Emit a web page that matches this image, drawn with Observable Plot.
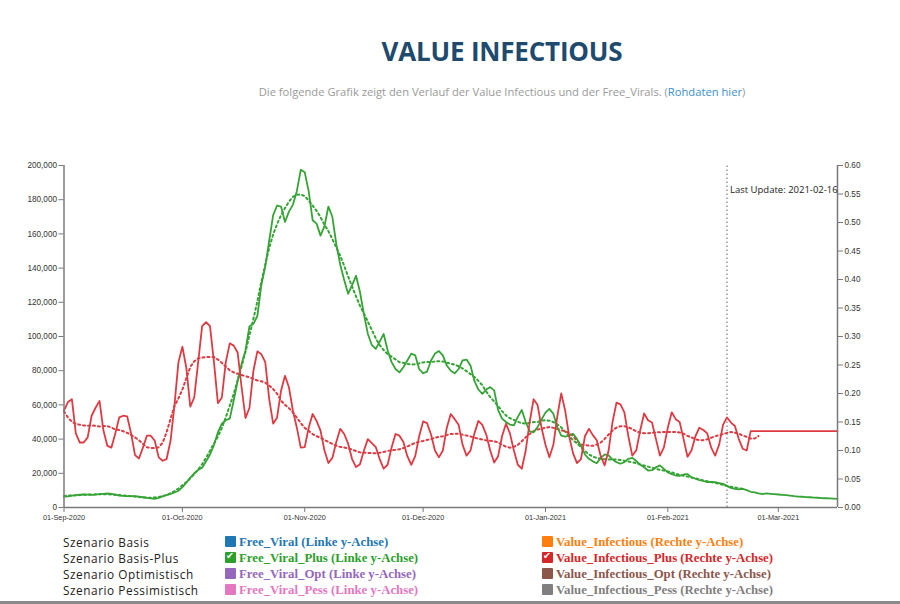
<!DOCTYPE html>
<html>
<head>
<meta charset="utf-8">
<script src="https://cdn.jsdelivr.net/npm/d3@7"></script>
<script src="https://cdn.jsdelivr.net/npm/@observablehq/plot@0.6"></script>
<style>
  html, body { margin: 0; padding: 0; background: #fff; }
  body { width: 900px; height: 604px; position: relative; overflow: hidden; font-family: "Open Sans", sans-serif; }
  #title { position: absolute; left: 104px; width: 796px; top: 34px; text-align: center; font-weight: 700; font-size: 26px; color: #1e4a6d; line-height: 34px; letter-spacing: -0.2px; }
  #subtitle { position: absolute; left: 104px; width: 796px; top: 84px; text-align: center; font-size: 11.2px; color: #9a9a9a; line-height: 16px; }
  #subtitle a { color: #3b8fd1; text-decoration: none; }
  #chart { position: absolute; left: 0; top: 145px; }
  .leg { position: absolute; line-height: 16px; white-space: nowrap; }
  .scen { left: 63px; color: #222; font-family: "Open Sans", sans-serif; font-size: 11.8px; letter-spacing: 0.55px; }
  .ser { font-family: "Liberation Serif", "Times New Roman", serif; font-weight: 700; font-size: 12.8px; }
  .sw { display: inline-block; width: 11px; height: 11px; margin-right: 3px; vertical-align: -1px; position: relative; border-radius: 1px; }
  .sw.on::after { content: "✔"; position: absolute; left: 1px; top: -4px; font-size: 9.5px; color: #fff; font-family: "DejaVu Sans"; }
  #bottomline { position: absolute; left: 0; top: 601px; width: 900px; height: 3px; background: #8a8a8a; }
</style>
</head>
<body>
<div id="title">VALUE INFECTIOUS</div>
<div id="subtitle">Die folgende Grafik zeigt den Verlauf der Value Infectious und der Free_Virals. (<a>Rohdaten hier</a>)</div>
<div id="chart"></div>
<div id="legend"></div>
<div id="bottomline"></div>
<script>
// ---- data ----
const startDate = "2020-09-01";
const endDate = "2021-03-16";
const lastUpdate = "2021-02-16";

// Free_Viral_Plus (left axis), daily, in thousands, from 01-Sep-2020
const freeViralPlusK = [
  6.4, 6.5, 7.0, 7.2, 7.5, 7.6, 7.5, 7.4, 7.5, 7.8,
  8.0, 8.2, 8.0, 7.5, 7.0, 6.8, 6.7, 6.6, 6.6, 6.3,
  6.0, 5.6, 5.3, 5.0, 5.6, 6.5, 7.3, 8.0, 8.8, 9.8,
  11.9, 14.5, 17.5, 20.0, 22.0, 23.3, 27.0, 31.0, 36.5, 44.0,
  49.0, 51.0, 52.0, 62.6, 74.0, 84.0, 92.0, 106.0, 107.4, 112.0,
  130.0, 141.0, 156.0, 171.0, 176.6, 176.0, 167.0, 173.0, 177.0, 185.0,
  197.5, 196.0, 185.0, 168.0, 166.0, 159.0, 164.5, 176.0, 170.0, 154.0,
  142.0, 133.0, 125.0, 130.0, 135.5, 126.0, 113.0, 101.5, 95.0, 92.8,
  97.0, 101.5, 92.0, 85.0, 81.0, 79.0, 82.0, 86.0, 90.0, 89.0,
  81.0, 78.5, 79.5, 86.0, 90.0, 91.5, 89.0, 83.0, 80.0, 78.5,
  81.0, 86.0, 86.5, 83.0, 74.0, 69.0, 66.5, 69.0, 70.4, 68.5,
  57.0, 52.0, 50.0, 48.5, 48.0, 53.0, 57.0, 50.0, 44.5, 44.0,
  47.0, 51.5, 55.5, 57.7, 54.8, 47.0, 42.0, 41.5, 42.0, 43.1,
  40.0, 36.0, 31.0, 28.5, 27.0, 25.9, 29.0, 31.0, 30.5, 28.0,
  26.5, 25.6, 26.5, 28.5, 29.0, 27.2, 25.0, 23.5, 21.6, 21.8,
  23.5, 24.6, 22.6, 20.5, 19.5, 18.7, 18.5, 19.3, 19.5, 17.6,
  16.8, 16.0, 15.5, 14.8, 14.9, 14.8, 14.3, 13.8, 12.5, 11.5,
  10.9, 10.6, 10.9, 10.2, 9.2, 8.8, 8.2, 7.8, 8.2, 8.0,
  7.8, 7.6, 7.4, 7.2, 6.9, 6.6, 6.4, 6.3, 6.1, 6.0,
  5.8, 5.7, 5.5, 5.4, 5.3, 5.2, 5.1
];

// Value_Infectious_Plus (right axis), daily, from 01-Sep-2020
const valueInfectiousPlus = [
  0.170, 0.185, 0.190, 0.130, 0.114, 0.114, 0.123, 0.161, 0.175, 0.187,
  0.135, 0.108, 0.105, 0.130, 0.158, 0.161, 0.160, 0.130, 0.092, 0.086,
  0.105, 0.126, 0.126, 0.117, 0.088, 0.082, 0.085, 0.117, 0.180, 0.255,
  0.282, 0.245, 0.177, 0.193, 0.255, 0.318, 0.325, 0.318, 0.255, 0.183,
  0.193, 0.255, 0.288, 0.284, 0.272, 0.211, 0.157, 0.175, 0.240, 0.274,
  0.269, 0.255, 0.190, 0.147, 0.158, 0.205, 0.231, 0.211, 0.170, 0.140,
  0.105, 0.106, 0.140, 0.164, 0.152, 0.135, 0.100, 0.078, 0.087, 0.115,
  0.138, 0.129, 0.112, 0.085, 0.071, 0.076, 0.100, 0.120, 0.113, 0.106,
  0.085, 0.068, 0.075, 0.105, 0.129, 0.126, 0.115, 0.090, 0.075, 0.090,
  0.125, 0.151, 0.148, 0.128, 0.100, 0.088, 0.100, 0.140, 0.164, 0.155,
  0.145, 0.110, 0.091, 0.100, 0.130, 0.152, 0.145, 0.128, 0.100, 0.079,
  0.090, 0.125, 0.147, 0.130, 0.100, 0.075, 0.068, 0.100, 0.150, 0.190,
  0.180, 0.140, 0.110, 0.088, 0.110, 0.160, 0.200, 0.170, 0.125, 0.095,
  0.078, 0.085, 0.125, 0.138, 0.127, 0.118, 0.090, 0.074, 0.100, 0.150,
  0.184, 0.181, 0.167, 0.125, 0.091, 0.100, 0.135, 0.165, 0.153, 0.149,
  0.120, 0.091, 0.105, 0.140, 0.167, 0.155, 0.150, 0.120, 0.089, 0.100,
  0.125, 0.140, 0.136, 0.130, 0.105, 0.091, 0.110, 0.145, 0.158, 0.149,
  0.143, 0.120, 0.103, 0.100, 0.134, 0.134, 0.134, 0.134, 0.134, 0.134,
  0.134, 0.134, 0.134, 0.134, 0.134, 0.134, 0.134, 0.134, 0.134, 0.134,
  0.134, 0.134, 0.134, 0.134, 0.134, 0.134, 0.134
];

// number of leading days covered by the dotted 7-day trend lines
const greenTrendDays = 173;
const redTrendDays = 177;

const leftTicks = [0, 20000, 40000, 60000, 80000, 100000, 120000, 140000, 160000, 180000, 200000];
const rightTicks = [0, 0.05, 0.10, 0.15, 0.20, 0.25, 0.30, 0.35, 0.40, 0.45, 0.50, 0.55, 0.60];

const scenarios = ["Szenario Basis", "Szenario Basis-Plus", "Szenario Optimistisch", "Szenario Pessimistisch"];
const freeViralNames = ["Free_Viral (Linke y-Achse)", "Free_Viral_Plus (Linke y-Achse)", "Free_Viral_Opt (Linke y-Achse)", "Free_Viral_Pess (Linke y-Achse)"];
const freeViralColors = ["#1f77b4", "#2ca02c", "#9467bd", "#e377c2"];
const valueInfNames = ["Value_Infectious (Rechte y-Achse)", "Value_Infectious_Plus (Rechte y-Achse)", "Value_Infectious_Opt (Rechte y-Achse)", "Value_Infectious_Pess (Rechte y-Achse)"];
const valueInfColors = ["#ff7f0e", "#d62728", "#8c564b", "#7f7f7f"];
const checked = [false, true, false, false];

// ---- build ----
const parse = d3.utcParse("%Y-%m-%d");
const t0 = parse(startDate), t1 = parse(endDate), tU = parse(lastUpdate);
const rightMax = 0.6, leftMax = 200000;
const k = leftMax / rightMax; // right-axis value -> left-axis units

const green = freeViralPlusK.map((v, i) => ({date: d3.utcDay.offset(t0, i), value: v * 1000}));
const red = valueInfectiousPlus.map((v, i) => ({date: d3.utcDay.offset(t0, i), value: v}));
const monthTicks = d3.utcMonth.range(t0, d3.utcDay.offset(t1, 1));

const greenC = "#36a336", redC = "#dd3b43";
const axisC = "#7a7a7a";

const chart = Plot.plot({
  width: 900,
  height: 380,
  marginTop: 20,
  marginBottom: 18,
  marginLeft: 63.5,
  marginRight: 63,
  x: {type: "utc", domain: [t0, t1]},
  y: {domain: [0, leftMax]},
  style: {fontFamily: "'Liberation Sans', Arial, sans-serif", color: "#333", background: "transparent", overflow: "visible"},
  marks: [
    Plot.ruleX([tU], {stroke: "#888", strokeWidth: 1.3, strokeDasharray: "1.5,2.5", y1: 0, y2: leftMax * 1.005}),
    Plot.lineY(green.slice(0, greenTrendDays), Plot.windowY({k: 7, anchor: "middle"}, {x: "date", y: "value", stroke: greenC, strokeWidth: 2, strokeDasharray: "2,3"})),
    Plot.lineY(red.slice(0, redTrendDays), Plot.windowY({k: 7, anchor: "middle"}, {x: "date", y: d => d.value * k, stroke: redC, strokeWidth: 2, strokeDasharray: "2,3"})),
    Plot.lineY(green, {x: "date", y: "value", stroke: greenC, strokeWidth: 1.8}),
    Plot.lineY(red, {x: "date", y: d => d.value * k, stroke: redC, strokeWidth: 1.8}),
    Plot.ruleY([0], {stroke: axisC, strokeWidth: 1.5}),
    Plot.ruleX([t0], {stroke: axisC, strokeWidth: 1.5}),
    Plot.ruleX([t1], {stroke: axisC, strokeWidth: 1.5}),
    Plot.axisX(monthTicks, {tickFormat: d3.utcFormat("%d-%b-%Y"), tickSize: 5, tickPadding: 2, fontSize: 7.3, label: null, stroke: axisC}),
    Plot.axisY(leftTicks, {anchor: "left", tickFormat: d3.format(","), tickSize: 5, tickPadding: 2, fontSize: 8.2, label: null, stroke: axisC}),
    Plot.axisY(rightTicks.map(v => v * k), {anchor: "right", tickFormat: d => (d / k).toFixed(2), tickSize: 5, tickPadding: 2, fontSize: 8.2, label: null, stroke: axisC}),
    Plot.text([tU], {x: d => d, frameAnchor: "top", dy: 21, dx: 3, textAnchor: "start", text: () => "Last Update: " + lastUpdate, fontSize: 9.5, fill: "#222", fontFamily: "'Open Sans', sans-serif"})
  ]
});
document.getElementById("chart").appendChild(chart);

// legend
const legend = document.getElementById("legend");
const rowTops = [533.5, 549.8, 566.1, 582.4];
scenarios.forEach((s, i) => {
  const a = document.createElement("div");
  a.className = "leg scen"; a.style.top = rowTops[i] + "px"; a.textContent = s;
  legend.appendChild(a);
  const b = document.createElement("div");
  b.className = "leg ser"; b.style.left = "225px"; b.style.top = rowTops[i] + "px"; b.style.color = freeViralColors[i];
  b.innerHTML = `<span class="sw${checked[i] ? " on" : ""}" style="background:${freeViralColors[i]}"></span>` + freeViralNames[i];
  legend.appendChild(b);
  const c = document.createElement("div");
  c.className = "leg ser"; c.style.left = "542px"; c.style.top = rowTops[i] + "px"; c.style.color = valueInfColors[i];
  c.innerHTML = `<span class="sw${checked[i] ? " on" : ""}" style="background:${valueInfColors[i]}"></span>` + valueInfNames[i];
  legend.appendChild(c);
});
</script>
</body>
</html>
